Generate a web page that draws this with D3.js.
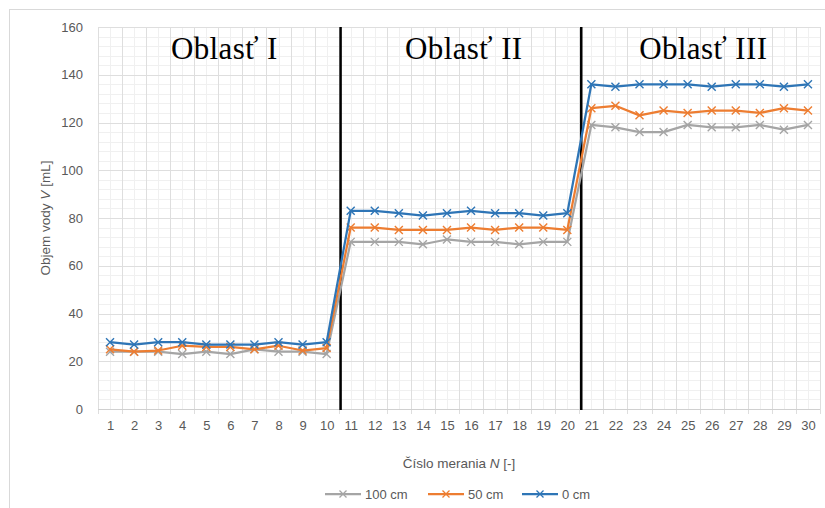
<!DOCTYPE html>
<html>
<head>
<meta charset="utf-8">
<script src="https://cdn.jsdelivr.net/npm/d3@7"></script>
<style>
  html, body { margin: 0; padding: 0; background: #fff; }
  svg { display: block; }
  text { font-family: "Liberation Sans", Arial, sans-serif; }
</style>
</head>
<body>
<svg id="chart" width="825" height="508"></svg>
<script>
// Measurement numbers 1..30
const measurements = d3.range(1, 31);

// Water volume [mL] for each distance
const vol100cm = [24, 24, 24, 23, 24, 23, 25, 24, 24, 23,
                  70, 70, 70, 69, 71, 70, 70, 69, 70, 70,
                  119, 118, 116, 116, 119, 118, 118, 119, 117, 119];
const vol50cm  = [25, 24, 24.5, 26.5, 26, 26, 25, 26.5, 24.5, 25.5,
                  76, 76, 75, 75, 75, 76, 75, 76, 76, 75,
                  126, 127, 123, 125, 124, 125, 125, 124, 126, 125];
const vol0cm   = [28, 27, 28, 28, 27, 27, 27, 28, 27, 28,
                  83, 83, 82, 81, 82, 83, 82, 82, 81, 82,
                  136, 135, 136, 136, 136, 135, 136, 136, 135, 136];

const seriesNames  = ["100 cm", "50 cm", "0 cm"];
const seriesColors = ["#a5a5a5", "#ed7d31", "#2e75b6"];

const yTicks = [0, 20, 40, 60, 80, 100, 120, 140, 160];

// Region labels and the dividers between them
const regionLabels  = ["Oblasť I", "Oblasť II", "Oblasť III"];
const regionCenters = [5.75, 15.7, 25.65];
const regionDividers = [10.58, 20.58];

const series = seriesNames.map((name, i) => ({
  name,
  color: seriesColors[i],
  values: [vol100cm, vol50cm, vol0cm][i]
}));

const svg = d3.select("#chart");

// Outer chart frame
svg.append("rect")
  .attr("x", 9.5).attr("y", 9.5)
  .attr("width", 840).attr("height", 520)
  .attr("fill", "#fff").attr("stroke", "#d9d9d9");

const plot = { left: 98, right: 820, top: 27, bottom: 409 };

const x = d3.scaleLinear().domain([0.5, 30.5]).range([plot.left, plot.right]);
const y = d3.scaleLinear().domain([0, 160]).range([plot.bottom, plot.top]);

const grid = svg.append("g");

// Minor horizontal grid (every 4 mL)
grid.selectAll(".hminor")
  .data(d3.range(4, 160, 4).filter(v => v % 20 !== 0))
  .join("line")
  .attr("x1", plot.left).attr("x2", plot.right)
  .attr("y1", d => Math.round(y(d)) + 0.5).attr("y2", d => Math.round(y(d)) + 0.5)
  .attr("stroke", "#f0f0f0").attr("stroke-width", 1);

// Minor vertical grid at each measurement
grid.selectAll(".vminor")
  .data(measurements)
  .join("line")
  .attr("x1", d => Math.round(x(d)) + 0.5).attr("x2", d => Math.round(x(d)) + 0.5)
  .attr("y1", plot.top).attr("y2", plot.bottom)
  .attr("stroke", "#f0f0f0").attr("stroke-width", 1);

// Major horizontal grid
grid.selectAll(".hmajor")
  .data(yTicks.filter(v => v > 0))
  .join("line")
  .attr("x1", plot.left).attr("x2", plot.right)
  .attr("y1", d => Math.round(y(d)) + 0.5).attr("y2", d => Math.round(y(d)) + 0.5)
  .attr("stroke", "#dedede").attr("stroke-width", 1);

// Major vertical grid at category boundaries, with ticks below the axis
grid.selectAll(".vmajor")
  .data(d3.range(0, 31).map(i => i + 0.5))
  .join("line")
  .attr("x1", d => Math.round(x(d)) + 0.5).attr("x2", d => Math.round(x(d)) + 0.5)
  .attr("y1", plot.top).attr("y2", plot.bottom + 5)
  .attr("stroke", "#dedede").attr("stroke-width", 1);

// Category axis line
grid.append("line")
  .attr("x1", plot.left).attr("x2", plot.right)
  .attr("y1", plot.bottom + 0.5).attr("y2", plot.bottom + 0.5)
  .attr("stroke", "#d0d0d0").attr("stroke-width", 1);

// Y axis labels
const yAxis = svg.append("g")
  .attr("transform", `translate(${plot.left},0)`)
  .call(d3.axisLeft(y).tickValues(yTicks).tickSize(0).tickPadding(15));
yAxis.select(".domain").remove();
yAxis.selectAll("text")
  .attr("fill", "#595959").attr("font-size", 13)
  .style("font-family", "'Liberation Sans', Arial, sans-serif");

// X axis labels
const xAxis = svg.append("g")
  .attr("transform", `translate(0,${plot.bottom})`)
  .call(d3.axisBottom(x).tickValues(measurements).tickFormat(d3.format("d")).tickSize(0).tickPadding(12));
xAxis.select(".domain").remove();
xAxis.selectAll("text")
  .attr("fill", "#595959").attr("font-size", 13)
  .style("font-family", "'Liberation Sans', Arial, sans-serif");

// Region dividers
svg.selectAll(".divider")
  .data(regionDividers)
  .join("line")
  .attr("x1", d => x(d)).attr("x2", d => x(d))
  .attr("y1", plot.top).attr("y2", plot.bottom + 1)
  .attr("stroke", "#000").attr("stroke-width", 2.5);

// Region labels
svg.selectAll(".region")
  .data(regionLabels)
  .join("text")
  .attr("x", (d, i) => x(regionCenters[i]))
  .attr("y", 59)
  .attr("text-anchor", "middle")
  .style("font-family", "'Liberation Serif', 'Times New Roman', serif")
  .attr("font-size", 31)
  .attr("letter-spacing", 0.4)
  .attr("fill", "#000")
  .text(d => d);

// Series lines and markers
const line = d3.line()
  .x((d, i) => x(measurements[i]))
  .y(d => y(d));

const xMark = s => `M${-s},${-s}L${s},${s}M${-s},${s}L${s},${-s}`;

const sg = svg.selectAll(".series")
  .data(series)
  .join("g");

sg.append("path")
  .attr("d", d => line(d.values))
  .attr("fill", "none")
  .attr("stroke", d => d.color)
  .attr("stroke-width", 2.25)
  .attr("stroke-linejoin", "round");

sg.each(function(s) {
  d3.select(this).selectAll("path.mk")
    .data(s.values)
    .join("path")
    .attr("class", "mk")
    .attr("transform", (d, i) => `translate(${x(measurements[i])},${y(d)})`)
    .attr("d", xMark(4))
    .attr("fill", "none")
    .attr("stroke", s.color)
    .attr("stroke-width", 1.4);
});

// Axis titles
const xTitle = svg.append("text")
  .attr("x", (plot.left + plot.right) / 2)
  .attr("y", 468)
  .attr("text-anchor", "middle")
  .attr("font-size", 13.5)
  .attr("fill", "#595959");
xTitle.append("tspan").text("Číslo merania ");
xTitle.append("tspan").attr("font-style", "italic").text("N");
xTitle.append("tspan").text(" [-]");

const yTitle = svg.append("text")
  .attr("transform", `translate(50,${(plot.top + plot.bottom) / 2}) rotate(-90)`)
  .attr("text-anchor", "middle")
  .attr("font-size", 13.5)
  .attr("fill", "#595959");
yTitle.append("tspan").text("Objem vody ");
yTitle.append("tspan").attr("font-style", "italic").text("V");
yTitle.append("tspan").text(" [mL]");

// Legend
const legendX = [325, 428, 522];
const lg = svg.selectAll(".legend")
  .data(series)
  .join("g")
  .attr("transform", (d, i) => `translate(${legendX[i]},494)`);
lg.append("line")
  .attr("x1", 0).attr("x2", 36).attr("y1", 0).attr("y2", 0)
  .attr("stroke", d => d.color).attr("stroke-width", 2.25);
lg.append("path")
  .attr("transform", "translate(18,0)")
  .attr("d", xMark(3.5))
  .attr("fill", "none")
  .attr("stroke", d => d.color).attr("stroke-width", 1.3);
lg.append("text")
  .attr("x", 40).attr("y", 4.5)
  .attr("font-size", 13)
  .attr("fill", "#595959")
  .text(d => d.name);
</script>
</body>
</html>
